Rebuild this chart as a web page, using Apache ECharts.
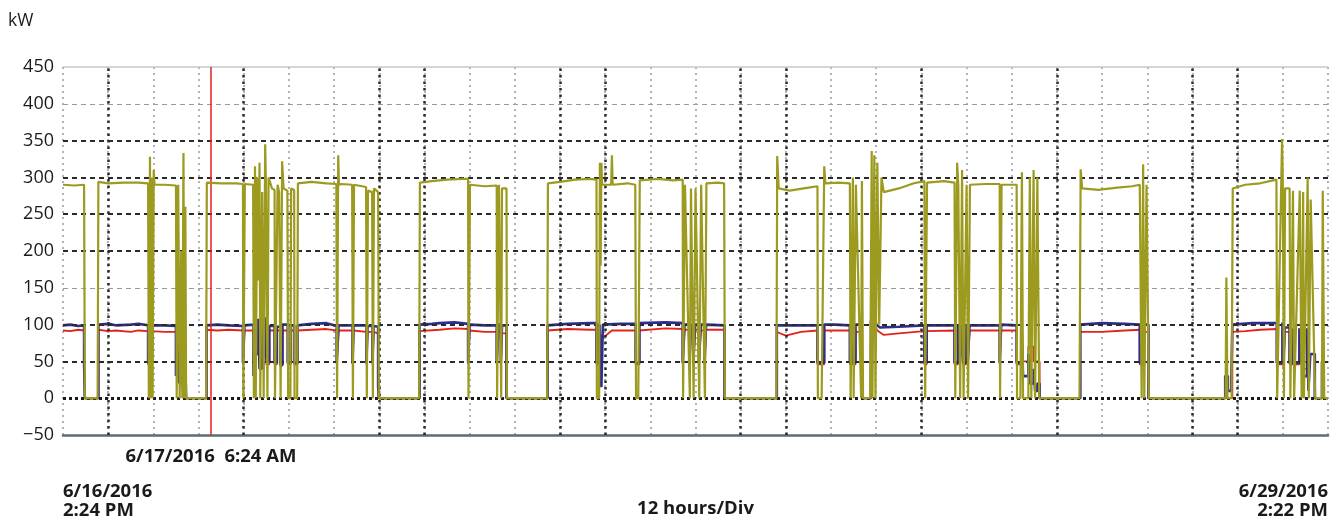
<!DOCTYPE html>
<html>
<head>
<meta charset="utf-8">
<script src="https://cdn.jsdelivr.net/npm/echarts@6/dist/echarts.min.js"></script>
<style>html,body{margin:0;padding:0;background:#fff}#c{width:1338px;height:521px}</style>
</head>
<body>
<div id="c"></div>
<script>
// time axis in hours from 6/16/2016 2:24 PM, 12 hours per division, 28 divisions
var startLabel = '6/16/2016\n2:24 PM';
var endLabel = '6/29/2016\n2:22 PM';
var cursorLabel = '6/17/2016  6:24 AM';
var cursorHour = 39.3;
var divLabel = '12 hours/Div';
var unitLabel = 'kW';

// olive trace (kW)
var olive = [[0,290],[3,289],[5.6,290],[5.8,0],[9.2,0],[9.4,294],[12,292],[16,293],[20,293],[22.6,292],[22.8,0],[23.1,328],[23.3,0],[23.6,300],[23.8,0],[24.1,310],[24.3,290],[27,290],[30,289],[30.2,0],[30.6,290],[31,0],[31.4,200],[31.7,0],[32.0,333],[32.2,0],[32.5,260],[32.7,0],[38.0,0],[38.2,293],[42,292],[46,292],[47.8,291],[47.9,0],[48.2,0],[48.3,291],[50.5,290],[50.7,0],[51.0,315],[51.2,0],[51.6,300],[51.8,160],[52.2,320],[52.4,0],[52.9,280],[53.3,0],[53.7,345],[53.9,290],[54.3,0],[54.6,300],[55.5,285],[56.2,283],[56.3,0],[56.8,0],[57.0,290],[57.4,280],[57.8,0],[58.2,322],[58.6,285],[59.6,282],[59.8,0],[60.4,0],[60.6,285],[61.4,283],[61.5,0],[62.2,0],[62.4,292],[66,294],[70,292],[72.6,291],[72.8,0],[73.1,330],[73.3,290],[74,291],[76.8,290],[77.0,0],[77.3,290],[80.5,287],[80.7,0],[81,282],[82.1,280],[82.3,0],[82.6,285],[83.7,280],[83.9,0],[94.6,0],[94.8,293],[98,295],[102,297],[106,298],[107.6,298],[107.7,0],[107.9,0],[108.1,290],[112,288],[115.2,289],[115.3,0],[115.8,290],[116.4,0],[116.6,285],[117.8,285],[117.9,0],[128.6,0],[128.8,292],[132,294],[136,297],[140,298],[141.7,297],[141.8,0],[142.4,0],[142.6,320],[142.8,180],[143.0,320],[143.2,290],[145.6,290],[145.8,330],[146.0,290],[150,292],[152,290],[152.2,0],[152.8,0],[153.2,296],[158,298],[162,296],[164.6,297],[164.7,0],[165.2,290],[166.5,0],[166.8,285],[167.5,0],[168,285],[169.0,0],[169.5,290],[170.5,0],[170.9,292],[174,293],[175.6,292],[175.8,0],[189.5,0],[189.7,329],[190.1,285],[193,282],[198,286],[200.4,288],[200.5,0],[201.5,0],[202.2,315],[202.5,292],[206,293],[209.0,292],[209.2,0],[209.8,300],[210.0,0],[210.6,290],[212.0,0],[212.2,295],[212.5,0],[214.4,0],[214.8,336],[215.0,0],[215.5,330],[215.8,0],[216.3,320],[216.8,100],[217.4,300],[218.0,280],[222,285],[226,292],[228.8,295],[229.0,0],[229.5,293],[234,295],[236.8,293],[237.0,0],[237.5,320],[237.8,290],[238.3,0],[238.8,310],[239.2,0],[240.0,290],[240.4,0],[240.9,290],[245,291],[248.8,291],[248.9,0],[249.3,290],[253.3,290],[253.4,0],[254.3,0],[254.7,307],[255,0],[256.4,0],[256.8,300],[257.2,0],[257.8,310],[258.2,0],[258.8,300],[259.3,0],[270.0,0],[270.3,311],[270.7,285],[275,283],[280,286],[284,288],[286.0,290],[286.5,0],[286.9,318],[287.2,0],[287.8,290],[288.4,0],[308.8,0],[309.0,164],[309.3,0],[310.4,0],[310.7,285],[314,290],[318,292],[322.3,297],[322.5,0],[323.8,352],[324.0,290],[324.3,0],[324.6,285],[325.8,285],[326.0,0],[326.7,282],[327.0,0],[328.5,282],[329.0,0],[329.4,280],[329.6,0],[330.6,300],[330.9,0],[331.4,270],[332.6,0],[334.4,0],[334.6,282],[335.0,0],[336,0]];

// blue trace (kW)
var blue = [[0,99],[2,100],[4,98],[5.6,99],[5.6,48],[5.8,48],[5.8,0],[9.4,0],[9.4,100],[12,101],[14,99],[18,100],[20,101],[22.6,99],[22.6,48],[23.2,48],[23.2,98],[24,99],[27,99],[30.0,98],[30.0,30],[30.4,30],[30.4,98],[30.9,98],[30.9,20],[31.4,20],[31.4,70],[31.9,70],[31.9,10],[32.4,10],[32.4,60],[32.7,60],[32.7,0],[38.1,0],[38.1,99],[41,100],[44,99],[47.8,98],[47.8,48],[48.2,48],[48.2,99],[50.6,100],[50.6,30],[50.9,30],[50.9,105],[51.2,105],[51.2,60],[51.9,60],[51.9,108],[52.2,108],[52.2,40],[52.8,40],[52.8,100],[53.4,100],[53.4,45],[53.9,45],[53.9,110],[54.2,110],[54.2,50],[54.8,50],[54.8,98],[56.2,98],[56.2,48],[56.8,48],[56.8,97],[57.7,97],[57.7,45],[58.3,45],[58.3,100],[59.7,100],[59.7,48],[60.5,48],[60.5,99],[61.4,99],[61.4,48],[62.3,48],[62.3,99],[66,101],[70,102],[72.7,98],[72.7,48],[73.2,48],[73.2,99],[76.9,99],[76.9,48],[77.2,48],[77.2,99],[80.6,99],[80.6,48],[80.9,48],[80.9,98],[82.2,98],[82.2,48],[82.5,48],[82.5,98],[83.7,97],[83.7,15],[84.0,15],[84.0,0],[94.7,0],[94.7,100],[98,101],[100,102],[104,103],[107.6,101],[107.6,48],[108.0,48],[108.0,100],[112,99],[115.2,99],[115.2,48],[115.7,48],[115.7,100],[116.3,100],[116.3,48],[116.6,48],[116.6,99],[117.8,99],[117.8,0],[128.7,0],[128.7,99],[134,101],[140,102],[141.7,102],[141.7,48],[142.5,48],[142.5,100],[143.0,100],[143.0,15],[143.4,15],[143.4,100],[148,101],[152.1,101],[152.1,48],[153.1,48],[153.1,102],[160,103],[164.6,102],[164.6,48],[165.1,48],[165.1,100],[166.4,100],[166.4,48],[166.8,48],[166.8,100],[167.4,100],[167.4,48],[167.9,48],[167.9,100],[168.9,100],[168.9,48],[169.4,48],[169.4,100],[170.4,100],[170.4,48],[170.8,48],[170.8,100],[175.7,99],[175.7,0],[189.6,0],[189.6,99],[195,99],[200.4,99],[200.4,48],[202.2,48],[202.2,100],[205,100],[209.0,99],[209.0,48],[209.6,48],[209.6,100],[209.9,100],[209.9,48],[210.5,48],[210.5,100],[212.0,100],[212.0,48],[212.4,48],[212.4,0],[214.6,0],[214.6,105],[215.5,115],[216,100],[217,96],[222,97],[228.8,99],[228.8,48],[229.4,48],[229.4,99],[236.8,99],[236.8,48],[237.7,48],[237.7,100],[238.2,100],[238.2,48],[238.7,48],[238.7,99],[239.1,99],[239.1,48],[239.9,48],[239.9,99],[240.3,99],[240.3,48],[240.8,48],[240.8,99],[248.8,99],[248.8,48],[249.2,48],[249.2,100],[253.3,99],[253.3,48],[254.6,48],[254.6,100],[255,100],[255,30],[256.4,30],[256.4,60],[256.8,60],[256.8,20],[257.8,20],[257.8,40],[258.2,40],[258.2,10],[258.8,10],[258.8,20],[259.4,20],[259.4,0],[270.2,0],[270.2,100],[276,102],[282,101],[286.0,100],[286.0,48],[287.1,48],[287.1,100],[288.3,100],[288.3,0],[308.7,0],[308.7,30],[309.4,30],[309.4,10],[310.3,10],[310.3,20],[310.6,20],[310.6,100],[316,102],[322.4,102],[322.4,48],[323.9,48],[323.9,103],[324.2,103],[324.2,48],[324.5,48],[324.5,96],[325.8,96],[325.8,48],[326.6,48],[326.6,95],[326.9,95],[326.9,48],[328.4,48],[328.4,95],[328.9,95],[328.9,48],[329.3,48],[329.3,95],[329.6,95],[329.6,30],[330.5,30],[330.5,95],[330.8,95],[330.8,10],[331.3,10],[331.3,60],[332.5,60],[332.5,0],[334.4,0],[334.4,50],[334.9,50],[334.9,0],[336,0]];

// red trace (kW)
var red = [[0,92],[2,91],[4,93],[5.6,92],[5.6,46],[5.8,46],[5.8,0],[9.4,0],[9.4,93],[12,91],[14,92],[18,90],[20,92],[22.6,91],[22.6,46],[23.2,46],[23.2,91],[27,90],[30.0,90],[30.0,70],[30.4,70],[30.4,90],[30.9,90],[30.9,55],[31.4,55],[31.4,75],[31.9,75],[31.9,30],[32.7,30],[32.7,0],[38.1,0],[38.1,93],[41,92],[44,93],[47.8,92],[47.8,46],[48.2,46],[48.2,92],[50.6,92],[50.6,46],[50.9,46],[50.9,80],[52.2,80],[52.2,46],[52.8,46],[52.8,93],[54.2,93],[54.2,46],[54.8,46],[54.8,92],[56.2,92],[56.2,46],[56.8,46],[56.8,92],[57.7,92],[57.7,46],[58.3,46],[58.3,92],[59.7,92],[59.7,46],[60.5,46],[60.5,92],[61.4,92],[61.4,46],[62.3,46],[62.3,92],[66,93],[70,94],[72.7,92],[72.7,46],[73.2,46],[73.2,92],[76.9,92],[76.9,46],[77.2,46],[77.2,92],[80.6,90],[80.6,46],[80.9,46],[80.9,90],[82.2,90],[82.2,46],[82.5,46],[82.5,90],[83.7,88],[83.7,0],[94.7,0],[94.7,91],[100,93],[104,95],[107.6,94],[107.6,46],[108.0,46],[108.0,92],[112,90],[115.2,90],[115.2,46],[115.7,46],[115.7,90],[116.3,90],[116.3,46],[116.6,46],[116.6,88],[117.8,88],[117.8,0],[128.7,0],[128.7,92],[134,94],[140,93],[141.7,93],[141.7,46],[142.5,46],[142.5,88],[143.4,82],[145.8,92],[152.1,92],[152.1,46],[153.1,46],[153.1,92],[160,95],[164.6,94],[164.6,46],[165.1,46],[165.1,93],[166.4,93],[166.4,46],[166.8,46],[166.8,93],[167.4,93],[167.4,46],[167.9,46],[167.9,93],[168.9,93],[168.9,46],[169.4,46],[169.4,92],[170.4,92],[170.4,46],[170.8,46],[170.8,93],[175.7,93],[175.7,0],[189.6,0],[189.6,90],[192,85],[196,90],[200.4,92],[200.4,46],[202.2,46],[202.2,92],[209.0,92],[209.0,46],[209.6,46],[209.6,92],[209.9,92],[209.9,46],[210.5,46],[210.5,90],[212.0,90],[212.0,46],[212.4,46],[212.4,0],[214.6,0],[214.6,98],[215.5,100],[216.3,92],[218,86],[222,88],[228.8,91],[228.8,46],[229.4,46],[229.4,91],[236.8,92],[236.8,46],[237.7,46],[237.7,92],[238.2,92],[238.2,46],[238.7,46],[238.7,92],[239.1,92],[239.1,46],[239.9,46],[239.9,92],[240.3,92],[240.3,46],[240.8,46],[240.8,92],[248.8,92],[248.8,46],[249.2,46],[249.2,92],[253.3,92],[253.3,46],[254.6,46],[254.6,90],[255,90],[255,50],[256.4,50],[256.4,70],[257.8,70],[257.8,50],[259.4,50],[259.4,0],[270.2,0],[270.2,90],[276,90],[282,92],[286.0,93],[286.0,46],[287.1,46],[287.1,90],[288.3,90],[288.3,0],[310.6,0],[310.6,90],[314,91],[318,93],[322.4,94],[322.4,46],[323.9,46],[323.9,92],[324.2,92],[324.2,40],[324.5,40],[324.5,90],[325.8,90],[325.8,46],[326.6,46],[326.6,90],[326.9,90],[326.9,46],[328.4,46],[328.4,92],[328.9,92],[328.9,46],[329.3,46],[329.3,92],[329.6,92],[329.6,40],[330.5,40],[330.5,90],[330.8,90],[330.8,30],[331.3,30],[331.3,60],[332.5,60],[332.5,0],[336,0]];

// grid lines
var hThick = [350, 300, 250, 200, 100, 50];
var hThin = [400, 150];
var vThick = [12, 48, 84, 96, 132, 144, 180, 192, 228, 264, 300, 312];

var chart = echarts.init(document.getElementById('c'), null, {renderer: 'canvas'});
var FONT = '"Open Sans", "Noto Sans", sans-serif';

function lines(arr, key) { return arr.map(function (v) { var o = {}; o[key] = v; return o; }); }

chart.setOption({
  animation: false,
  backgroundColor: '#ffffff',
  grid: {left: 63, right: 10, top: 67, bottom: 86, containLabel: false, outerBoundsMode: 'none'},
  xAxis: {
    type: 'value', min: 0, max: 336, interval: 12,
    axisLine: {show: true, onZero: false, lineStyle: {color: '#5d6b74', width: 2.5}},
    axisTick: {show: false},
    axisLabel: {
      show: true, showMinLabel: true, showMaxLabel: true,
      alignMinLabel: 'left', alignMaxLabel: 'right',
      margin: 47, fontFamily: FONT, fontWeight: 'bold', fontSize: 18.5, lineHeight: 19, color: '#1a1a1a',
      formatter: function (v) { return v === 0 ? startLabel : (v === 336 ? endLabel : ''); }
    },
    splitLine: {show: true, lineStyle: {color: '#9a9a9a', width: 1.5, type: [2, 4]}},
    name: divLabel, nameLocation: 'middle', nameGap: 64, nameMoveOverlap: false,
    nameTextStyle: {fontFamily: FONT, fontWeight: 'bold', fontSize: 18.5, color: '#1a1a1a'}
  },
  yAxis: {
    type: 'value', min: -50, max: 450, interval: 50,
    axisLine: {show: false}, axisTick: {show: false},
    axisLabel: {fontFamily: FONT, fontSize: 18, color: '#1a1a1a', margin: 9,
      formatter: function (v) { return v < 0 ? '\u2212' + Math.abs(v) : String(v); }},
    splitLine: {show: false}
  },
  graphic: [
    {type: 'text', left: 8, top: 12, style: {text: unitLabel, fontFamily: FONT, fontSize: 17.5, fill: '#1a1a1a'}}
  ],
  series: [
    {type: 'line', name: 'gridThinH', data: [], z: 1, silent: true,
      markLine: {silent: true, symbol: 'none', label: {show: false},
        lineStyle: {color: '#9a9a9a', width: 1, type: [5, 4]}, data: lines(hThin, 'yAxis')}},
    {type: 'line', name: 'gridTop', data: [], z: 1, silent: true,
      markLine: {silent: true, symbol: 'none', label: {show: false},
        lineStyle: {color: '#c8c8c8', width: 1.5, type: 'solid'}, data: [{yAxis: 450}]}},
    {type: 'line', name: 'gridThickH', data: [], z: 1, silent: true,
      markLine: {silent: true, symbol: 'none', label: {show: false},
        lineStyle: {color: '#2a2a2a', width: 2, type: [5, 4]}, data: lines(hThick, 'yAxis')}},
    {type: 'line', name: 'gridZero', data: [], z: 1, silent: true,
      markLine: {silent: true, symbol: 'none', label: {show: false},
        lineStyle: {color: '#1a1a1a', width: 3, type: [3, 3]}, data: [{yAxis: 0}]}},
    {type: 'line', name: 'gridThickV', data: [], z: 1, silent: true,
      markLine: {silent: true, symbol: 'none', label: {show: false},
        lineStyle: {color: '#2a2a2a', width: 2.5, type: [2.5, 4]}, data: lines(vThick, 'xAxis')}},
    {type: 'line', name: 'red', data: red, z: 3, showSymbol: false, symbol: 'none',
      lineStyle: {color: '#e3231b', width: 1.8}},
    {type: 'line', name: 'blue', data: blue, z: 4, showSymbol: false, symbol: 'none',
      lineStyle: {color: '#2d2d8f', width: 2.6}},
    {type: 'line', name: 'olive', data: olive, z: 5, showSymbol: false, symbol: 'none',
      lineStyle: {color: '#9c9a1f', width: 2.2}},
    {type: 'line', name: 'cursor', data: [], z: 6, silent: true,
      markLine: {silent: true, symbol: 'none',
        lineStyle: {color: '#e3231b', width: 1.5, type: 'solid'},
        label: {show: true, position: 'start', distance: 12, formatter: cursorLabel,
          fontFamily: FONT, fontWeight: 'bold', fontSize: 18.5, color: '#1a1a1a'},
        data: [{xAxis: cursorHour}]}}
  ]
});
</script>
</body>
</html>
